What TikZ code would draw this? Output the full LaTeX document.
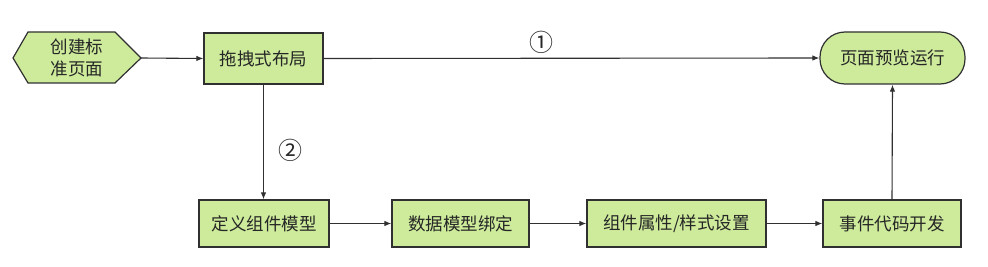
\documentclass[tikz,border=0pt]{standalone}
\usepackage{fontspec}
\setmainfont{Noto Sans CJK SC}
\usetikzlibrary{arrows.meta}
\definecolor{boxgreen}{HTML}{CDEB9B}
\definecolor{edge}{HTML}{303030}
\begin{document}
\begin{tikzpicture}[x=1pt,y=-1pt,
  every node/.style={font=\fontsize{17.5}{20}\selectfont, text=black!85},
  stepbox/.style={draw=edge, fill=boxgreen, line width=1.2pt, inner sep=0pt},
  conn/.style={draw=edge, line width=1.1pt, -{Latex[length=7pt,width=5.5pt]}}]
\useasboundingbox (0,0) rectangle (988,267);
% hexagon
\filldraw[draw=edge, fill=boxgreen, line width=1.2pt]
  (13,58) -- (28,32) -- (115,32) -- (141,58) -- (115,83) -- (28,83) -- cycle;
\node[minimum width=128pt, minimum height=51pt, inner sep=0pt, align=center,
      font=\fontsize{17.5}{22}\selectfont] (start) at (77,58) {创建标\\准页面};
\node[stepbox, minimum width=119pt, minimum height=51pt] (drag) at (263.5,58.5) {拖拽式布局};
\node[stepbox, rounded corners=25pt, minimum width=145pt, minimum height=52pt] (run) at (892.5,58) {页面预览运行};
\node[stepbox, minimum width=130pt, minimum height=47pt] (def) at (264,223.5) {定义组件模型};
\node[stepbox, minimum width=137pt, minimum height=47pt] (bind) at (460.5,223.5) {数据模型绑定};
\node[stepbox, minimum width=179pt, minimum height=47pt] (attr) at (676.5,223.5) {组件属性/样式设置};
\node[stepbox, minimum width=138pt, minimum height=47pt] (event) at (892,223.5) {事件代码开发};
\draw[conn] (start.east) -- (drag.west);
\draw[conn] (drag.east) -- node[above=1pt, pos=0.44, font=\fontsize{24}{26}\selectfont] (n1) {①} (run.west);
\draw[conn] (drag.south) -- node[right=11pt, pos=0.57, font=\fontsize{24}{26}\selectfont] (n2) {②} (def.north -| drag.south);
\draw[conn] (def.east) -- (bind.west);
\draw[conn] (bind.east) -- (attr.west);
\draw[conn] (attr.east) -- (event.west);
\draw[conn] (event.north) -- (run.south);
\end{tikzpicture}
\end{document}
